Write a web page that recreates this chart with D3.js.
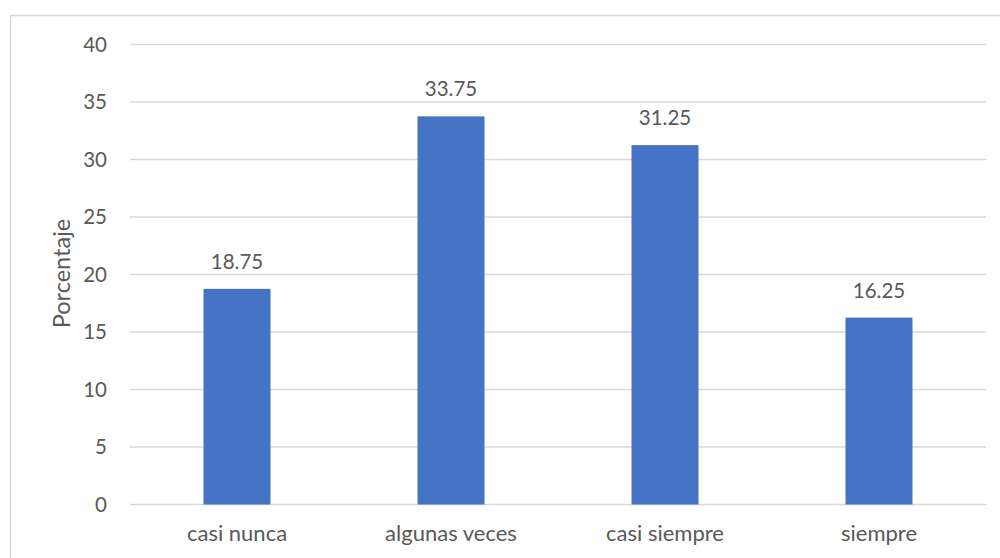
<!DOCTYPE html>
<html>
<head>
<meta charset="utf-8">
<script src="https://cdn.jsdelivr.net/npm/d3@7"></script>
<style>
  html, body { margin: 0; padding: 0; background: #fff; }
  svg text { font-family: Lato, "Open Sans", sans-serif; fill: #595959; }
</style>
</head>
<body>
<svg id="chart" width="1000" height="558"></svg>
<script>
// Response frequency, in percent
const categories = ["casi nunca", "algunas veces", "casi siempre", "siempre"];
const values = [18.75, 33.75, 31.25, 16.25];
const yTicks = [0, 5, 10, 15, 20, 25, 30, 35, 40];
const yTitle = "Porcentaje";

const svg = d3.select("#chart");
const margin = { left: 130, right: 14, top: 44.5, bottom: 53.5 };
const W = 1000, H = 558;

// outer frame
svg.append("rect")
  .attr("x", 10.5).attr("y", 15.5)
  .attr("width", W + 20).attr("height", H + 20)
  .attr("fill", "none").attr("stroke", "#d9d9d9").attr("stroke-width", 1.5);

const x = d3.scaleBand()
  .domain(categories)
  .range([margin.left, W - margin.right])
  .paddingInner(0.687)
  .paddingOuter(0.3435);

const y = d3.scaleLinear()
  .domain([0, 40])
  .range([H - margin.bottom, margin.top]);

// gridlines
svg.append("g")
  .selectAll("line")
  .data(yTicks)
  .join("line")
  .attr("x1", margin.left).attr("x2", W - margin.right)
  .attr("y1", d => y(d)).attr("y2", d => y(d))
  .attr("stroke", "#d9d9d9").attr("stroke-width", 1.3);

// y axis labels
const yAxis = d3.axisLeft(y).tickValues(yTicks).tickSize(0).tickPadding(0);
svg.append("g")
  .attr("transform", `translate(${margin.left - 23},0)`)
  .call(yAxis)
  .call(g => g.select(".domain").remove())
  .call(g => g.selectAll("text")
    .attr("font-size", 20.5)
    .attr("font-family", "Lato, 'Open Sans', sans-serif")
    .attr("fill", "#595959"));

// bars
svg.append("g")
  .selectAll("rect")
  .data(values)
  .join("rect")
  .attr("x", (d, i) => x(categories[i]))
  .attr("width", x.bandwidth())
  .attr("y", d => y(d))
  .attr("height", d => y(0) - y(d))
  .attr("fill", "#4472c4");

// value labels
svg.append("g")
  .selectAll("text")
  .data(values)
  .join("text")
  .attr("x", (d, i) => x(categories[i]) + x.bandwidth() / 2)
  .attr("y", d => y(d) - 20)
  .attr("text-anchor", "middle")
  .attr("font-size", 20.5)
  .text(d => d.toFixed(2));

// x axis labels
const xAxis = d3.axisBottom(x).tickSize(0).tickPadding(0);
svg.append("g")
  .attr("transform", `translate(0,${y(0) + 21})`)
  .call(xAxis)
  .call(g => g.select(".domain").remove())
  .call(g => g.selectAll("text")
    .attr("font-size", 22)
    .attr("font-family", "Lato, 'Open Sans', sans-serif")
    .attr("fill", "#595959"));

// y axis title
svg.append("text")
  .attr("transform", `translate(70,${(y(0) + y(40)) / 2 - 1}) rotate(-90)`)
  .attr("text-anchor", "middle")
  .attr("font-size", 23.5)
  .text(yTitle);
</script>
</body>
</html>
